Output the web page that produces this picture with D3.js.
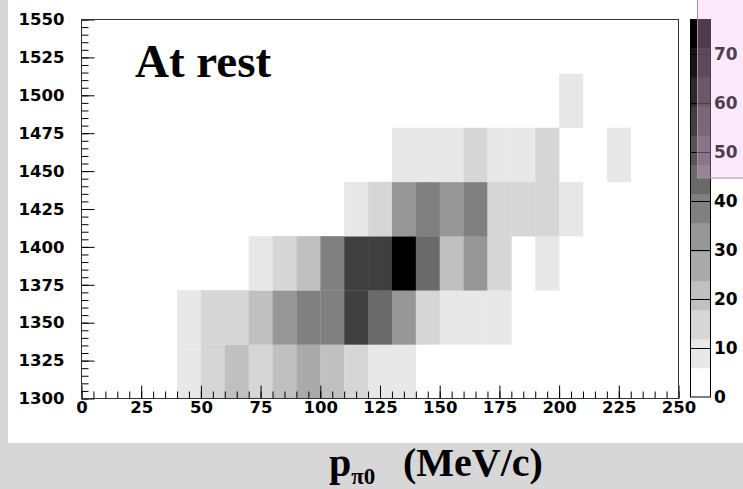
<!DOCTYPE html>
<html>
<head>
<meta charset="utf-8">
<script src="https://cdn.jsdelivr.net/npm/d3@7"></script>
<style>
  body { margin: 0; background: #d7d7d7; }
  svg { display: block; }
</style>
</head>
<body>
<svg id="chart" width="743" height="489"></svg>
<script>
// histogram binning (MeV/c along x, MeV/c^2 along y)
const xEdges = [0, 10, 20, 30, 40, 50, 60, 70, 80, 90, 100, 110, 120, 130, 140,
                150, 160, 170, 180, 190, 200, 210, 220, 230, 240, 250];
const yEdges = [1300, 1335.7, 1371.4, 1407.1, 1442.9, 1478.6, 1514.3, 1550];

// counts, one row per y bin (bottom row first), one entry per x bin
const row0 = [0,0,0,0, 9,15,21,15,21,26,21,15, 9, 9, 0, 0, 0, 0, 0, 0, 0,0,0,0,0];
const row1 = [0,0,0,0, 9,15,15,21,32,38,38,56,44,32,15, 9, 9, 9, 0, 0, 0,0,0,0,0];
const row2 = [0,0,0,0, 0, 0, 0, 9,15,21,38,56,56,77,44,21,32,15, 0, 9, 0,0,0,0,0];
const row3 = [0,0,0,0, 0, 0, 0, 0, 0, 0, 0, 9,15,32,38,32,38,15,15,15, 9,0,0,0,0];
const row4 = [0,0,0,0, 0, 0, 0, 0, 0, 0, 0, 0, 0, 9, 9, 9,15, 9, 9,15, 0,0,9,0,0];
const row5 = [0,0,0,0, 0, 0, 0, 0, 0, 0, 0, 0, 0, 0, 0, 0, 0, 0, 0, 0, 9,0,0,0,0];
const row6 = [0,0,0,0, 0, 0, 0, 0, 0, 0, 0, 0, 0, 0, 0, 0, 0, 0, 0, 0, 0,0,0,0,0];
const counts = [row0, row1, row2, row3, row4, row5, row6];

const xTicks = [0, 25, 50, 75, 100, 125, 150, 175, 200, 225, 250];
const yTicks = [1300, 1325, 1350, 1375, 1400, 1425, 1450, 1475, 1500, 1525, 1550];
const zTicks = [0, 10, 20, 30, 40, 50, 60, 70];

// gray palette, white for the lowest band up to black
const grays = ["#ffffff", "#e8e8e8", "#d6d6d6", "#c0c0c0", "#aaaaaa", "#969696",
               "#808080", "#6a6a6a", "#555555", "#404040", "#2a2a2a", "#151515", "#000000"];

let padL = 81.5, padT = 19.5, padR = 678.5, padB = 398.5;
let tickFont = "'DejaVu Sans', sans-serif";

const svg = d3.select("#chart");

// white pad behind the frame
svg.append("rect")
  .attr("x", 8).attr("y", 0)
  .attr("width", 735).attr("height", 443)
  .attr("fill", "#ffffff");

const x = d3.scaleLinear().domain([0, 250]).range([padL, padR]);
const y = d3.scaleLinear().domain([1300, 1550]).range([padB, padT]);
const zMax = d3.max(counts, r => d3.max(r));
const z = d3.scaleLinear().domain([0, zMax]).range([padB - 1.5, padT]);
const color = d3.scaleQuantize().domain([0, zMax]).range(grays);

// cells
const cells = [];
counts.forEach((r, j) => r.forEach((v, i) => {
  if (v > 0) cells.push({ x0: xEdges[i], x1: xEdges[i + 1], y0: yEdges[j], y1: yEdges[j + 1], v });
}));

svg.append("g")
  .selectAll("rect")
  .data(cells)
  .enter()
  .append("rect")
  .attr("x", d => x(d.x0))
  .attr("y", d => y(d.y1))
  .attr("width", d => x(d.x1) - x(d.x0) + 0.3)
  .attr("height", d => y(d.y0) - y(d.y1) + 0.3)
  .attr("fill", d => color(d.v));

// axes: major + minor ticks pointing into the frame
const minorX = d3.range(0, 251, 5);
const minorY = d3.range(1300, 1551, 5);
const fmt = d3.format("d");

svg.append("g")
  .attr("transform", `translate(0,${padB})`)
  .call(d3.axisBottom(x).tickValues(minorX).tickSize(-7).tickFormat(""))
  .call(g => g.select(".domain").remove());
svg.append("g")
  .attr("transform", `translate(0,${padB})`)
  .call(d3.axisBottom(x).tickValues(xTicks).tickSize(-13).tickPadding(3).tickFormat(fmt))
  .call(g => g.select(".domain").remove())
  .call(g => g.selectAll("text")
    .attr("font-family", tickFont).attr("font-weight", "bold")
    .attr("font-size", 16.5).attr("fill", "#000"));

svg.append("g")
  .attr("transform", `translate(${padL},0)`)
  .call(d3.axisLeft(y).tickValues(minorY).tickSize(-7).tickFormat(""))
  .call(g => g.select(".domain").remove());
svg.append("g")
  .attr("transform", `translate(${padL},0)`)
  .call(d3.axisLeft(y).tickValues(yTicks).tickSize(-13).tickPadding(17).tickFormat(fmt))
  .call(g => g.select(".domain").remove())
  .call(g => g.selectAll("text")
    .attr("font-family", tickFont).attr("font-weight", "bold")
    .attr("font-size", 16.5).attr("fill", "#000"));

// frame
svg.append("rect")
  .attr("x", padL).attr("y", padT)
  .attr("width", padR - padL).attr("height", padB - padT)
  .attr("fill", "none")
  .attr("stroke", "#333")
  .attr("stroke-width", 1);

// palette bar
const barX = 690.5, barW = 20;
const bands = grays.map((c, k) => {
  const [a, b] = color.invertExtent(c);
  return { a, b, c };
});
svg.append("g")
  .selectAll("rect")
  .data(bands)
  .enter()
  .append("rect")
  .attr("x", barX)
  .attr("y", d => z(d.b))
  .attr("width", barW)
  .attr("height", d => z(d.a) - z(d.b) + 0.3)
  .attr("fill", d => d.c);

svg.append("g")
  .selectAll("line")
  .data(zTicks.slice(1))
  .enter()
  .append("line")
  .attr("x1", barX).attr("x2", barX + barW)
  .attr("y1", d => Math.round(z(d)) + 0.5)
  .attr("y2", d => Math.round(z(d)) + 0.5)
  .attr("stroke", "#000");

svg.append("rect")
  .attr("x", barX).attr("y", padT)
  .attr("width", barW).attr("height", z(0) - padT)
  .attr("fill", "none")
  .attr("stroke", "#000");

svg.append("g")
  .selectAll("text")
  .data(zTicks)
  .enter()
  .append("text")
  .attr("x", 714)
  .attr("y", d => z(d))
  .attr("dy", "0.36em")
  .attr("font-family", tickFont)
  .attr("font-weight", "bold")
  .attr("font-size", 17)
  .text(d => d);

// labels
svg.append("text")
  .attr("x", 135).attr("y", 77)
  .attr("font-family", "'Liberation Serif', serif")
  .attr("font-weight", "bold")
  .attr("font-size", 47)
  .text("At rest");

const xlab = svg.append("text")
  .attr("x", 329).attr("y", 476)
  .attr("font-family", "'Liberation Serif', serif")
  .attr("font-weight", "bold")
  .attr("font-size", 40);
xlab.append("tspan").text("p");
xlab.append("tspan").attr("font-size", 23).attr("dy", 8).text("π0");
xlab.append("tspan").attr("x", 403).attr("dy", -8).text("(MeV/c)");

// translucent pink box over the upper part of the palette
svg.append("rect")
  .attr("x", 697.5).attr("y", -1)
  .attr("width", 50).attr("height", 179)
  .attr("fill", "rgb(250,187,245)")
  .attr("fill-opacity", 0.32)
  .attr("stroke", "#9a9a9a");
</script>
</body>
</html>
